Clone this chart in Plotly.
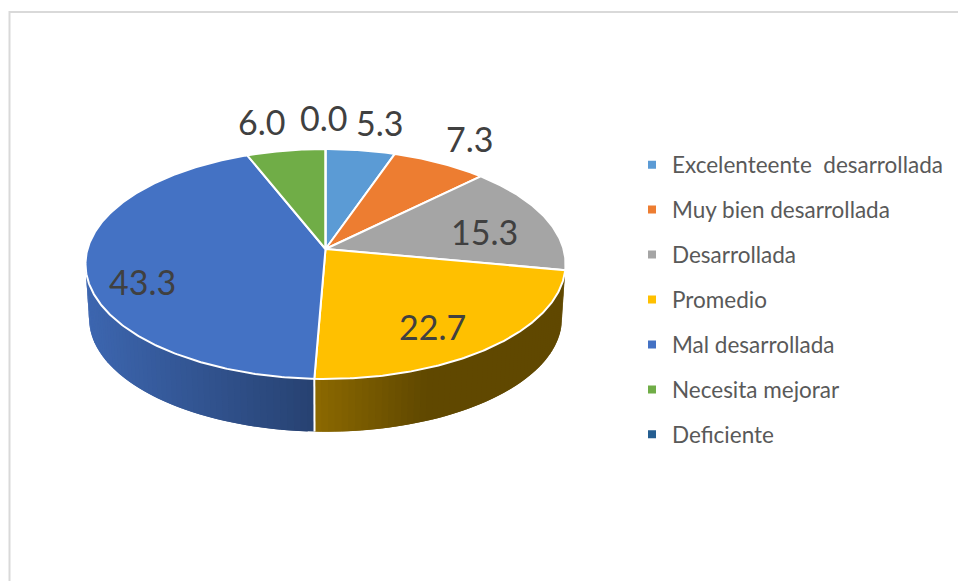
import math
import plotly.graph_objects as go

categories = ["Excelenteente\u00a0\u00a0desarrollada", "Muy bien desarrollada", "Desarrollada", "Promedio",
              "Mal desarrollada", "Necesita mejorar", "Deficiente"]
values = [5.3, 7.3, 15.3, 22.7, 43.3, 6.0, 0.0]
colors = ["#5b9bd5", "#ed7d31", "#a5a5a5", "#ffc000", "#4472c4", "#70ad47", "#255e91"]

# projection of the tilted disc
CX, CY, A, S, K, DEPTH, BOTTOM_R = 325.5, 249.0, 238.0, 113.0, 0.1304, 55.0, 0.985


def proj(phi, r=1.0, dz=0.0):
    X, Y = r * math.sin(phi), r * math.cos(phi)
    d = 1 + K * Y
    return CX + A * X / d, CY - S * Y / d + dz


def low(phi):
    return proj(phi, BOTTOM_R, DEPTH)


def mix(c, f):
    return "rgb(%d,%d,%d)" % tuple(int(int(c[i:i + 2], 16) * f) for i in (1, 3, 5))


total = sum(values)
angles = [0.0]
for v in values:
    angles.append(angles[-1] + v / total * 2 * math.pi)

fig = go.Figure()
phi_min, phi_max = math.acos(-K), 2 * math.pi - math.acos(-K)

# side wall: painted strip by strip, each one overlapping the next.
# Only the two large front slices show a wall; the first takes the sliver up to the silhouette.
shade = {3: (0.55, 0.38), 4: (0.90, 0.58)}
for i in shade:
    a0 = phi_min if i == 3 else angles[i]
    a1 = min(angles[i + 1], phi_max)
    n = max(1, int((a1 - a0) / 0.025))
    for j in range(n):
        p0 = a0 + (a1 - a0) * j / n
        pe = a0 + (a1 - a0) * min(n, j + 2) / n
        arc = [p0 + (pe - p0) * q / 4 for q in range(5)]
        xy = [proj(p) for p in arc] + [low(p) for p in reversed(arc)]
        xy.append(xy[0])
        xm = proj(a0 + (a1 - a0) * (j + 0.5) / n)[0]
        if i == 3:
            t = min(1, (xm - 315) / 110)
        else:
            t = (xm - 85) / 230
        f = shade[i][0] + (shade[i][1] - shade[i][0]) * t
        fig.add_trace(go.Scatter(x=[q[0] for q in xy], y=[q[1] for q in xy], mode="lines",
                                 fill="toself", fillcolor=mix(colors[i], f), line=dict(width=0),
                                 showlegend=False, hoverinfo="skip"))

# white divider on the wall between the two front slices
xy = [proj(angles[4]), low(angles[4])]
fig.add_trace(go.Scatter(x=[q[0] for q in xy], y=[q[1] for q in xy], mode="lines",
                         line=dict(color="white", width=2), showlegend=False, hoverinfo="skip"))

# top sectors
for i in range(len(values)):
    a0, a1 = angles[i], angles[i + 1]
    n = max(1, int((a1 - a0) / 0.01))
    pts = [(CX, CY)] + [proj(a0 + (a1 - a0) * j / n) for j in range(n + 1)] + [(CX, CY)]
    fig.add_trace(go.Scatter(x=[q[0] for q in pts], y=[q[1] for q in pts], mode="lines", fill="toself",
                             fillcolor=colors[i], line=dict(color="white", width=2),
                             showlegend=False, name=categories[i], hoverinfo="name"))

# legend entries
for i, name in enumerate(categories):
    fig.add_trace(go.Scatter(x=[None], y=[None], mode="markers", name=name, legendgroup=name,
                             marker=dict(symbol="square", size=8, color=colors[i])))

# data labels: offset in px from the slice's rim midpoint
label_shift = [(19.5, -28), (30, -24), (-60, 14), (-58, -21), (56.5, 13), (-24.5, -29), (-2.5, -32)]
for i, v in enumerate(values):
    ax, ay = proj((angles[i] + angles[i + 1]) / 2)
    fig.add_annotation(x=ax, y=ay, text=f"{v:.1f}", showarrow=False, xshift=label_shift[i][0],
                       yshift=-label_shift[i][1], font=dict(family="Lato", size=34, color="#404040"))

fig.update_layout(
    width=958, height=581, margin=dict(l=0, r=0, t=0, b=0), paper_bgcolor="white", plot_bgcolor="white",
    xaxis=dict(range=[0, 958], visible=False, fixedrange=True),
    yaxis=dict(range=[581, 0], visible=False, fixedrange=True),
    legend=dict(x=632 / 958, y=1 - 143.5 / 581, xanchor="left", yanchor="top", tracegroupgap=12.7,
                font=dict(family="Lato", size=22.5, color="#595959"), bgcolor="rgba(0,0,0,0)"),
    shapes=[dict(type="path", xref="x", yref="y", path="M 9.5 581 L 9.5 12 L 958 12",
                 line=dict(color="#d9d9d9", width=2))],
)
# remove the page's default 8 px body margin so that the figure fills the window
fig.write_html("out.html", config={"displayModeBar": False},
               post_script="document.body.style.margin='0';document.body.style.overflow='hidden';")
